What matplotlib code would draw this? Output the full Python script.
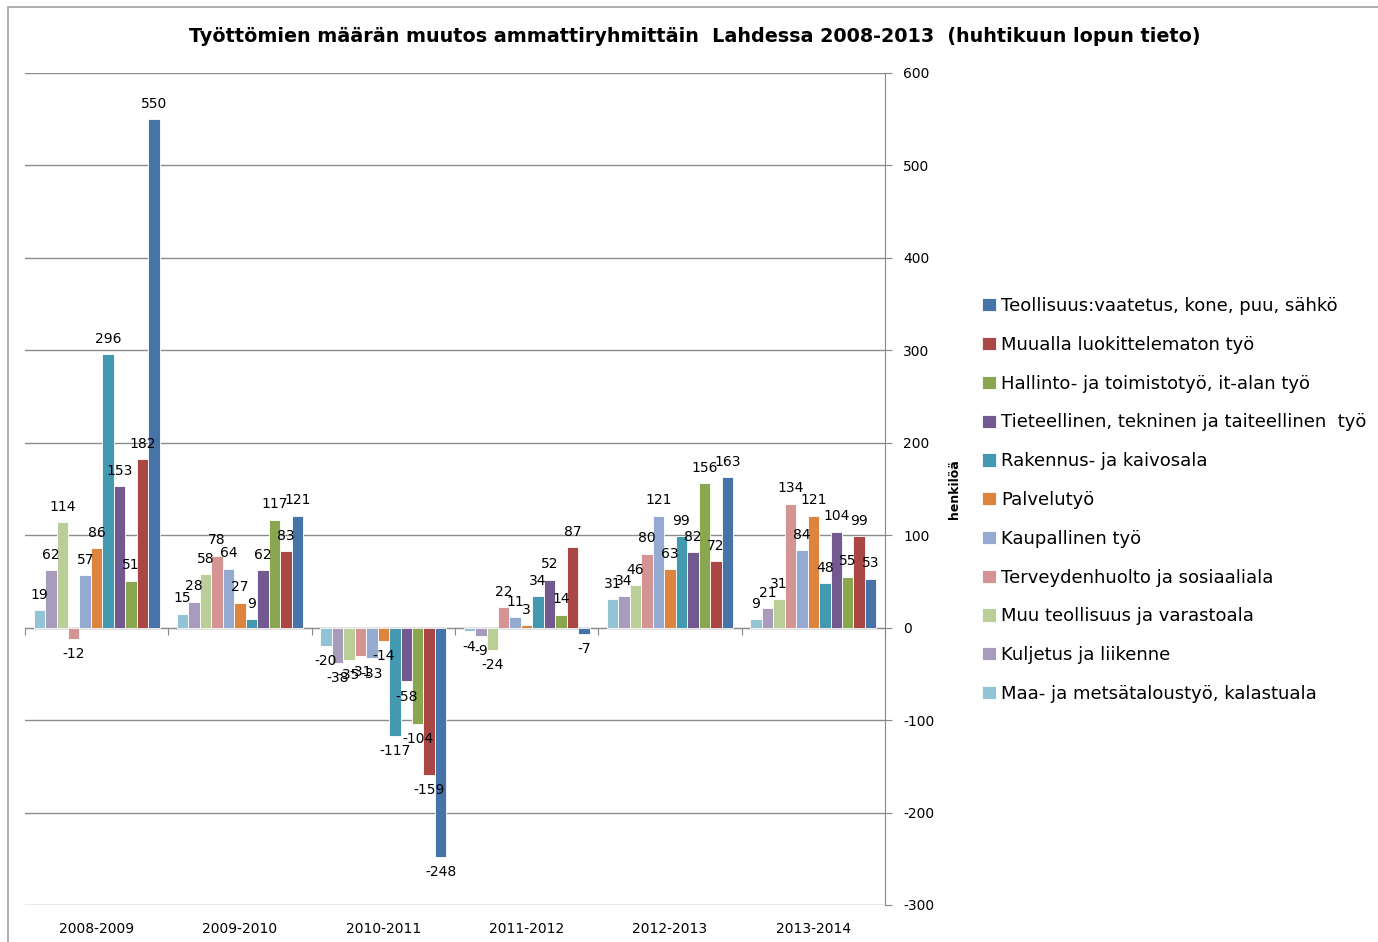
import matplotlib
matplotlib.use("Agg")
import matplotlib.pyplot as plt
import numpy as np
from matplotlib.patches import Rectangle

categories = ["2008-2009", "2009-2010", "2010-2011", "2011-2012", "2012-2013", "2013-2014"]

series_names = [
    "Maa- ja metsätaloustyö, kalastuala",
    "Kuljetus ja liikenne",
    "Muu teollisuus ja varastoala",
    "Terveydenhuolto ja sosiaaliala",
    "Kaupallinen työ",
    "Palvelutyö",
    "Rakennus- ja kaivosala",
    "Tieteellinen, tekninen ja taiteellinen  työ",
    "Hallinto- ja toimistotyö, it-alan työ",
    "Muualla luokittelematon työ",
    "Teollisuus:vaatetus, kone, puu, sähkö",
]

maa = [19, 15, -20, -4, 31, 9]
kuljetus = [62, 28, -38, -9, 34, 21]
muu_teollisuus = [114, 58, -35, -24, 46, 31]
terveys = [-12, 78, -31, 22, 80, 134]
kaupallinen = [57, 64, -33, 11, 121, 84]
palvelu = [86, 27, -14, 3, 63, 121]
rakennus = [296, 9, -117, 34, 99, 48]
tieteellinen = [153, 62, -58, 52, 82, 104]
hallinto = [51, 117, -104, 14, 156, 55]
muualla = [182, 83, -159, 87, 72, 99]
teollisuus = [550, 121, -248, -7, 163, 53]

series_values = [maa, kuljetus, muu_teollisuus, terveys, kaupallinen, palvelu,
                 rakennus, tieteellinen, hallinto, muualla, teollisuus]

colors = ["#92C4D6", "#A99BBE", "#BACE97", "#D49494", "#94AAD1", "#DD853E",
          "#4299B0", "#72598F", "#8AA64F", "#AA4644", "#4673A8"]

y_ticks = [-300, -200, -100, 0, 100, 200, 300, 400, 500, 600]

plt.rcParams["font.family"] = ["DejaVu Sans"]
plt.rcParams["axes.unicode_minus"] = False

fig = plt.figure(figsize=(13.78, 9.42), dpi=100)
ax = fig.add_axes([25 / 1378, 1 - 905 / 942, (885 - 25) / 1378, (905 - 73) / 942])

n = len(series_values)
bw = 0.08
x = np.arange(len(categories))
for i, (name, vals, col) in enumerate(zip(series_names, series_values, colors)):
    pos = x + (i - (n - 1) / 2) * bw
    bars = ax.bar(pos, vals, width=bw, color=col, edgecolor="white", linewidth=0.6,
                  label=name, zorder=3)
    for b, v in zip(bars, vals):
        cx = b.get_x() + b.get_width() / 2
        if v >= 0:
            ax.annotate(str(v), (cx, v), xytext=(0, 6), textcoords="offset points",
                        ha="center", va="bottom", fontsize=10, zorder=5)
        else:
            ax.annotate(str(v), (cx, v), xytext=(0, -6), textcoords="offset points",
                        ha="center", va="top", fontsize=10, zorder=5)

ax.set_xlim(-0.5, len(categories) - 0.5)
ax.set_ylim(-300, 600)
ax.set_yticks(y_ticks)
ax.yaxis.tick_right()
ax.yaxis.set_label_position("right")
ax.tick_params(axis="y", length=5, color="#888888", labelsize=10, pad=8)
ax.set_ylabel("henkilöä", fontsize=9, fontweight="bold", labelpad=10)
ax.grid(axis="y", color="#8C8C8C", linewidth=1, zorder=0)
for s in ["top", "left", "bottom"]:
    ax.spines[s].set_visible(False)
ax.spines["right"].set_color("#888888")

ax.set_xticks(x)
ax.set_xticklabels(categories, fontsize=10)
ax.tick_params(axis="x", length=0, pad=12)

sec = ax.secondary_xaxis(1 / 3)
sec.set_xticks(np.arange(len(categories) + 1) - 0.5)
sec.tick_params(axis="x", length=5, color="#888888", labelbottom=False, labeltop=False, direction="out")
sec.spines["bottom"].set_color("#888888")
sec.spines["top"].set_color("#888888")

handles, labels = ax.get_legend_handles_labels()
fig.legend(handles[::-1], labels[::-1], loc="center left",
           bbox_to_anchor=(966 / 1378, 1 - 500 / 942), frameon=False,
           fontsize=13, handlelength=0.75, handleheight=0.75, handletextpad=0.3,
           labelspacing=1.15)

fig.text(0.5 * (197 + 1192) / 1378, 1 - 37 / 942,
         "Työttömien määrän muutos ammattiryhmittäin  Lahdessa 2008-2013  (huhtikuun lopun tieto)",
         ha="center", va="center", fontsize=13.8, fontweight="bold")

fig.patches.append(Rectangle((8 / 1378, -0.1), 1.2, 1 - 7 / 942 + 0.1, transform=fig.transFigure,
                             fill=False, edgecolor="#A0A0A0", linewidth=1.2))

fig.savefig("out.png", dpi=100)
